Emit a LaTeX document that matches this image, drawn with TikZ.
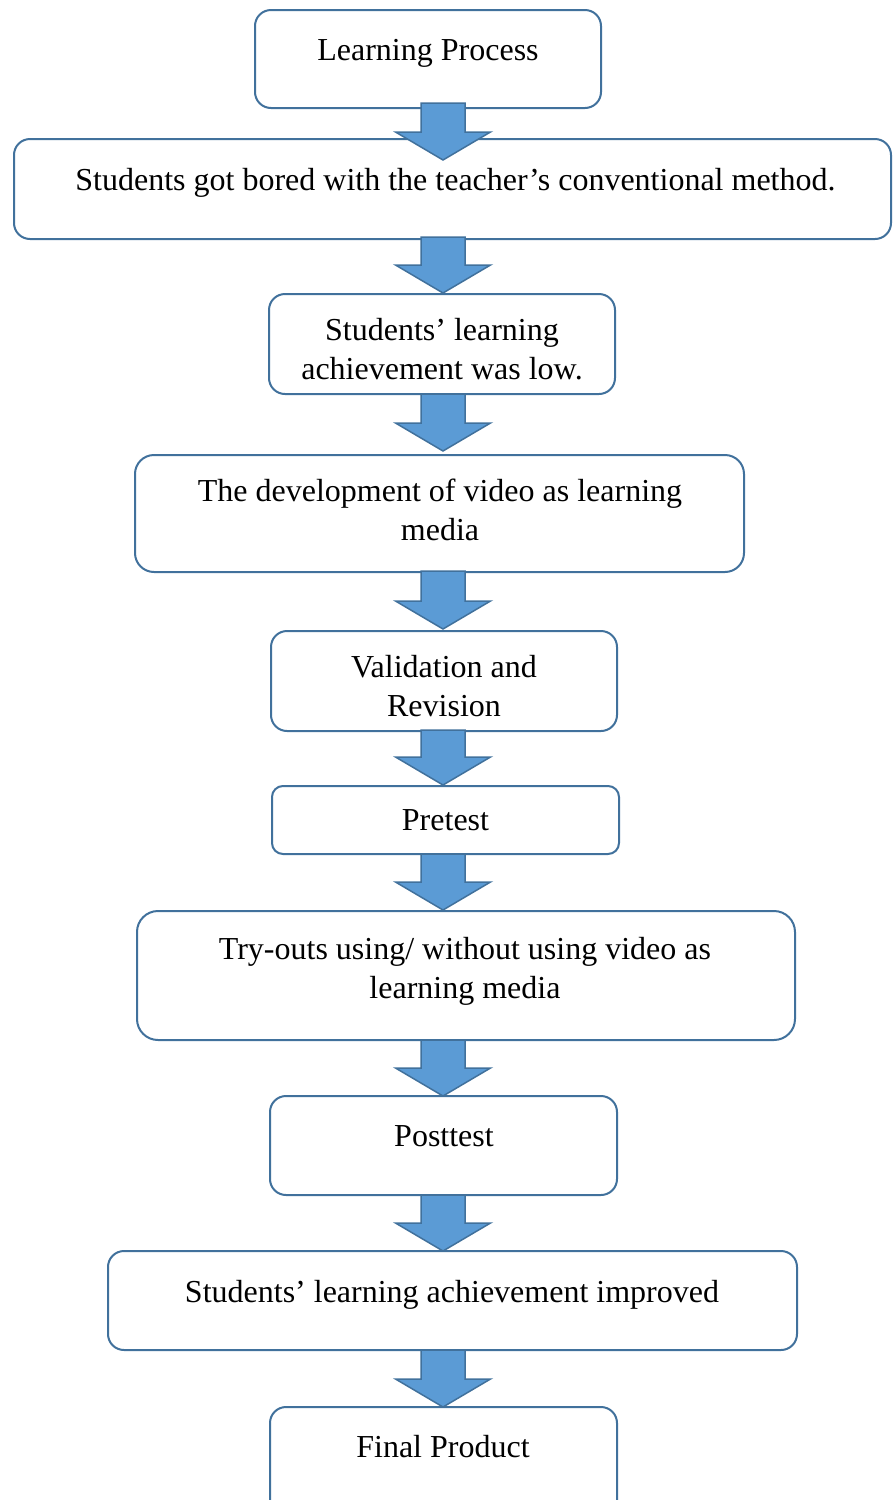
\documentclass[tikz,border=0pt]{standalone}
\usepackage{fontspec}
\setmainfont{Liberation Serif}
\usetikzlibrary{calc}

\definecolor{boxline}{HTML}{41719C}
\definecolor{arrowfill}{HTML}{5B9BD5}

\tikzset{
  stepbox/.style={draw=boxline, line width=2pt, fill=white, inner sep=0pt, outer sep=0pt},
  steptext/.style={inner sep=0pt, text=black, font=\fontsize{32}{39}\selectfont},
  flowarrow/.style={draw=boxline, line width=1.5pt, fill=arrowfill, line join=miter},
}

% Block arrow from node #1 to node #2: the shaft starts #3 above the
% bottom of #1, the tip ends #4 below the top of #2.
\newcommand{\flowstep}[4]{%
  \draw[flowarrow] let \p1=($(#1.south)+(0,-#3)$), \p2=($(#2.north)+(0,#4)$) in
    ({443pt-22pt},{\y1}) -- ({443pt+22pt},{\y1}) -- ({443pt+22pt},{\y2+28pt})
    -- ({443pt+47.5pt},{\y2+28pt}) -- ({443pt},{\y2}) -- ({443pt-47.5pt},{\y2+28pt})
    -- ({443pt-22pt},{\y2+28pt}) -- cycle;
}

\begin{document}
\begin{tikzpicture}[x=1pt, y=-1pt]
  \useasboundingbox (0,0) rectangle (892,1500);
  \clip (0,0) rectangle (892,1500);

  % boxes
  \node[stepbox, minimum width=346pt, minimum height=98pt, rounded corners=16pt] (b1) at (428,59) {};
  \node[stepbox, minimum width=877pt, minimum height=100pt, rounded corners=16pt] (b2) at (452.5,189) {};
  \node[stepbox, minimum width=346pt, minimum height=100pt, rounded corners=16pt] (b3) at (442,344) {};
  \node[stepbox, minimum width=609pt, minimum height=117pt, rounded corners=19pt] (b4) at (439.5,513.5) {};
  \node[stepbox, minimum width=346pt, minimum height=100pt, rounded corners=16pt] (b5) at (444,681) {};
  \node[stepbox, minimum width=347pt, minimum height=68pt, rounded corners=11pt] (b6) at (445.5,820) {};
  \node[stepbox, minimum width=658pt, minimum height=129pt, rounded corners=21pt] (b7) at (466,975.5) {};
  \node[stepbox, minimum width=347pt, minimum height=99pt, rounded corners=16pt] (b8) at (443.5,1145.5) {};
  \node[stepbox, minimum width=689pt, minimum height=99pt, rounded corners=16pt] (b9) at (452.5,1300.5) {};
  \node[stepbox, minimum width=347pt, minimum height=113pt, rounded corners=16pt] (b10) at (443.5,1463.5) {};

  % texts
  \node[steptext, anchor=base] (t1) at (428,60) {Learning Process};
  \node[steptext, anchor=base] (t2) at (455.5,190) {Students got bored with the teacher’s conventional method.};
  \node[steptext, anchor=base] (t3) at (442,340) {\begin{tabular}[t]{@{}c@{}}Students’ learning\\achievement was low.\end{tabular}};
  \node[steptext, anchor=base] (t4) at (440,501) {\begin{tabular}[t]{@{}c@{}}The development of video as learning\\media\end{tabular}};
  \node[steptext, anchor=base] (t5) at (444,677) {\begin{tabular}[t]{@{}c@{}}Validation and\\Revision\end{tabular}};
  \node[steptext, anchor=base] (t6) at (445.5,830) {Pretest};
  \node[steptext, anchor=base] (t7) at (465,959) {\begin{tabular}[t]{@{}c@{}}Try-outs using/ without using video as\\learning media\end{tabular}};
  \node[steptext, anchor=base] (t8) at (444,1146) {Posttest};
  \node[steptext, anchor=base] (t9) at (452,1302) {Students’ learning achievement improved};
  \node[steptext, anchor=base] (t10) at (443,1457) {Final Product};

  % arrows
  \flowstep{b1}{b2}{5}{21}
  \flowstep{b2}{b3}{2}{-1}
  \flowstep{b3}{b4}{0}{-4}
  \flowstep{b4}{b5}{1}{-2}
  \flowstep{b5}{b6}{1}{-1}
  \flowstep{b6}{b7}{0}{-1}
  \flowstep{b7}{b8}{0}{0}
  \flowstep{b8}{b9}{0}{0}
  \flowstep{b9}{b10}{0}{0}
\end{tikzpicture}
\end{document}
